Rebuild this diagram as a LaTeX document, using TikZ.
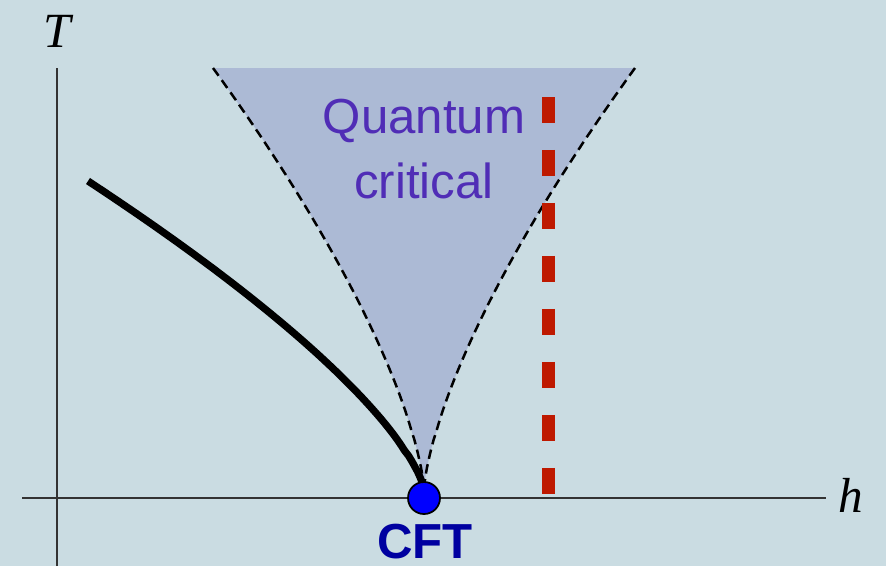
\documentclass[tikz,border=0pt]{standalone}
\usepackage{fontspec}
\setmainfont{Liberation Serif}
\setsansfont{Liberation Sans}
\usetikzlibrary{positioning}
\definecolor{slidebg}{RGB}{202, 220, 226}
\definecolor{conefill}{RGB}{172, 186, 213}
\definecolor{qcpurple}{RGB}{80, 45, 182}
\definecolor{cftblue}{RGB}{0, 0, 160}
\definecolor{crossred}{RGB}{190, 25, 0}

\begin{document}
\begin{tikzpicture}[
    x=0.02cm, y=-0.02cm,
    axis/.style={draw=black!80, line width=0.04cm},
    crossover/.style={black, line width=0.05cm, dash pattern=on 0.19cm off 0.11cm},
    transition/.style={black, line width=0.145cm},
    cut/.style={crossred, line width=0.26cm, dash pattern=on 0.52cm off 0.54cm},
    axislabel/.style={font=\fontsize{28}{32}\selectfont\itshape, inner sep=0pt},
]
    \useasboundingbox[fill=slidebg] (0,0) rectangle (886,566);

    % quantum critical fan
    \fill[conefill] plot[domain=422:1, samples=60] ({424-211*(\x/422)^1.45},{490-\x})
      -- (424,490)
      -- plot[domain=1:422, samples=60] ({424+211*(\x/422)^1.45},{490-\x}) -- cycle;
    \draw[crossover] plot[domain=422:1, samples=60] ({424-211*(\x/422)^1.45},{490-\x}) -- (424,490);
    \draw[crossover] plot[domain=422:1, samples=60] ({424+211*(\x/422)^1.45},{490-\x}) -- (424,490);

    % Axes
    \coordinate (origin) at (57,498);
    \coordinate (tend) at (57,68);
    \coordinate (tbottom) at (57,566);
    \coordinate (hstart) at (22,498);
    \coordinate (hend) at (826,498);
    \draw[axis] (tbottom) -- (tend);
    \draw[axis] (hstart) -- (hend);

    % phase boundary
    \draw[transition] plot[domain=309:3, samples=60] ({424-336*(\x/309)^1.4},{490-\x});

    % fixed field cut
    \coordinate (cuttop) at (548,97);
    \coordinate (cutbottom) at (548,496);
    \draw[cut] (cuttop) -- (cutbottom);

    \node[circle, draw=black, line width=0.035cm, fill=blue, minimum size=0.64cm,
          inner sep=0pt] (cft) at (424,498) {};

    % Labels
    \node[anchor=north, inner sep=0pt, align=center, text=qcpurple,
          font=\sffamily\fontsize{28}{37}\selectfont] (qc) at (424,99)
      {Quantum\\critical};
    \node[anchor=base, inner sep=0pt, text=cftblue,
          font=\sffamily\bfseries\fontsize{28}{32}\selectfont] (cftlabel) at (425,558) {CFT};
    \node[axislabel, anchor=base] (tlabel) at (57,47) {T};
    \node[axislabel, anchor=base] (hlabel) at (851,512) {h};
\end{tikzpicture}
\end{document}
